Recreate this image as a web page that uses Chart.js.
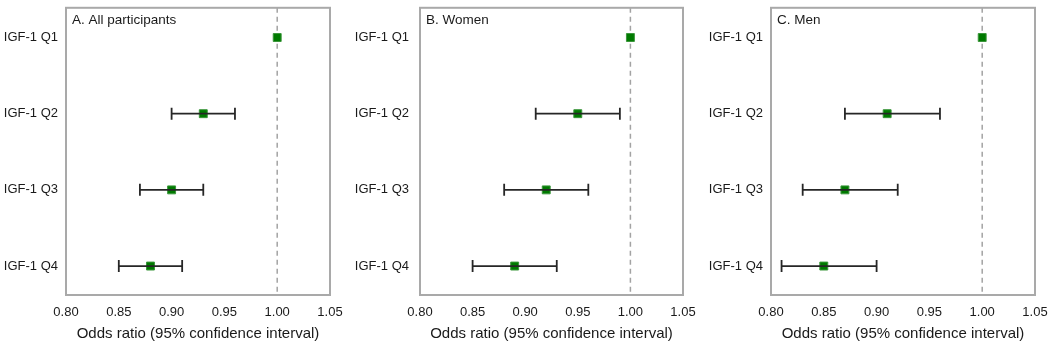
<!DOCTYPE html>
<html>
<head>
<meta charset="utf-8">
<script src="https://cdn.jsdelivr.net/npm/chart.js@4/dist/chart.umd.min.js"></script>
<style>
  html, body { margin: 0; padding: 0; background: #ffffff; }
  #wrap { position: relative; width: 1050px; height: 349px; overflow: hidden; }
  .panel { position: absolute; top: 0; height: 349px; }
</style>
</head>
<body>
<div id="wrap">
  <div class="panel" style="left:0px;width:350px"><canvas id="cA"></canvas></div>
  <div class="panel" style="left:350px;width:350px"><canvas id="cB"></canvas></div>
  <div class="panel" style="left:700px;width:350px"><canvas id="cC"></canvas></div>
</div>
<script>
// ---- data ----
const categories = ['IGF-1 Q1', 'IGF-1 Q2', 'IGF-1 Q3', 'IGF-1 Q4'];
const panelTitles = ['A. All participants', 'B. Women', 'C. Men'];
const xTickValues = [0.80, 0.85, 0.90, 0.95, 1.00, 1.05];
const xAxisTitle = 'Odds ratio (95% confidence interval)';
const referenceValue = 1.00;

const orAll   = [1.00, 0.93, 0.90, 0.88];
const lowAll  = [null, 0.90, 0.87, 0.85];
const highAll = [null, 0.96, 0.93, 0.91];

const orWomen   = [1.00, 0.95, 0.92, 0.89];
const lowWomen  = [null, 0.91, 0.88, 0.85];
const highWomen = [null, 0.99, 0.96, 0.93];

const orMen   = [1.00, 0.91, 0.87, 0.85];
const lowMen  = [null, 0.87, 0.83, 0.81];
const highMen = [null, 0.96, 0.92, 0.90];

// ---- styling / layout ----
const FONT = "'Liberation Sans', Arial, sans-serif";
const TEXT = '#1a1a1a';
Chart.defaults.font.family = FONT;
Chart.defaults.color = TEXT;

const panelLayouts = [
  { yWidth: 66, right: 20, top: 4, labelPad: 8 },
  { yWidth: 70, right: 17, top: 4, labelPad: 11 },
  { yWidth: 71, right: 15, top: 4, labelPad: 8 }
];

const framePlugin = {
  id: 'frame',
  beforeDatasetsDraw(chart, args, opts) {
    const { ctx, chartArea: a, scales } = chart;
    const x = scales.x.getPixelForValue(referenceValue);
    ctx.save();
    ctx.strokeStyle = '#a3a3a3';
    ctx.lineWidth = 1.5;
    ctx.setLineDash([5, 4]);
    ctx.beginPath();
    ctx.moveTo(x, a.top);
    ctx.lineTo(x, a.bottom);
    ctx.stroke();
    ctx.restore();
  },
  afterDraw(chart, args, opts) {
    const { ctx, chartArea: a } = chart;
    ctx.save();
    ctx.strokeStyle = '#a9a9a9';
    ctx.lineWidth = 2;
    ctx.strokeRect(a.left, a.top, a.right - a.left, a.bottom - a.top);
    ctx.fillStyle = TEXT;
    ctx.font = '13.5px ' + FONT;
    ctx.textBaseline = 'middle';
    ctx.textAlign = 'left';
    ctx.fillText(opts.label, a.left + 6, a.top + 12);
    ctx.restore();
  }
};

function makePanel(canvasId, idx, ors, lows, highs) {
  const L = panelLayouts[idx];
  const datasets = [];
  ors.forEach((v, i) => {
    if (lows[i] !== null && highs[i] !== null) {
      datasets.push({
        type: 'line',
        data: [{ x: lows[i], y: i + 1 }, { x: highs[i], y: i + 1 }],
        showLine: true,
        borderColor: '#262626',
        borderWidth: 1.8,
        pointStyle: 'line',
        pointRotation: 90,
        pointRadius: 6,
        pointBorderColor: '#262626',
        pointBorderWidth: 1.8,
        pointHoverRadius: 6,
        fill: false
      });
    }
  });
  datasets.push({
    type: 'scatter',
    data: ors.map((v, i) => ({ x: v, y: i + 1 })),
    pointStyle: 'rect',
    pointRadius: 5.6,
    pointHoverRadius: 5.6,
    backgroundColor: '#007a00',
    borderColor: '#3a963a',
    borderWidth: 1
  });

  return new Chart(document.getElementById(canvasId), {
    type: 'scatter',
    data: { datasets },
    options: {
      responsive: true,
      maintainAspectRatio: false,
      animation: false,
      events: [],
      layout: { padding: { left: 0, right: L.right, top: L.top, bottom: 0 } },
      plugins: {
        legend: { display: false },
        tooltip: { enabled: false },
        frame: { label: panelTitles[idx] }
      },
      scales: {
        x: {
          type: 'linear',
          min: xTickValues[0],
          max: xTickValues[xTickValues.length - 1],
          afterBuildTicks: (s) => { s.ticks = xTickValues.map(v => ({ value: v })); },
          afterFit: (s) => { s.height = 54; s.paddingLeft = 0; s.paddingRight = 0; },
          grid: { display: false, drawTicks: false },
          border: { display: false },
          ticks: {
            padding: 10,
            font: { size: 13 },
            color: TEXT,
            maxRotation: 0,
            callback: (v) => Number(v).toFixed(2)
          },
          title: {
            display: true,
            text: xAxisTitle,
            font: { size: 15 },
            color: TEXT,
            padding: { top: 0, bottom: 6 }
          }
        },
        y: {
          type: 'linear',
          reverse: true,
          min: 0.61,
          max: 4.38,
          afterBuildTicks: (s) => { s.ticks = categories.map((c, i) => ({ value: i + 1 })); },
          afterFit: (s) => { s.width = L.yWidth; s.paddingTop = 0; s.paddingBottom = 0; },
          grid: { display: false, drawTicks: false },
          border: { display: false },
          ticks: {
            padding: L.labelPad,
            font: { size: 13 },
            color: TEXT,
            callback: (v) => categories[Math.round(v) - 1]
          }
        }
      }
    },
    plugins: [framePlugin]
  });
}

makePanel('cA', 0, orAll, lowAll, highAll);
makePanel('cB', 1, orWomen, lowWomen, highWomen);
makePanel('cC', 2, orMen, lowMen, highMen);
</script>
</body>
</html>
